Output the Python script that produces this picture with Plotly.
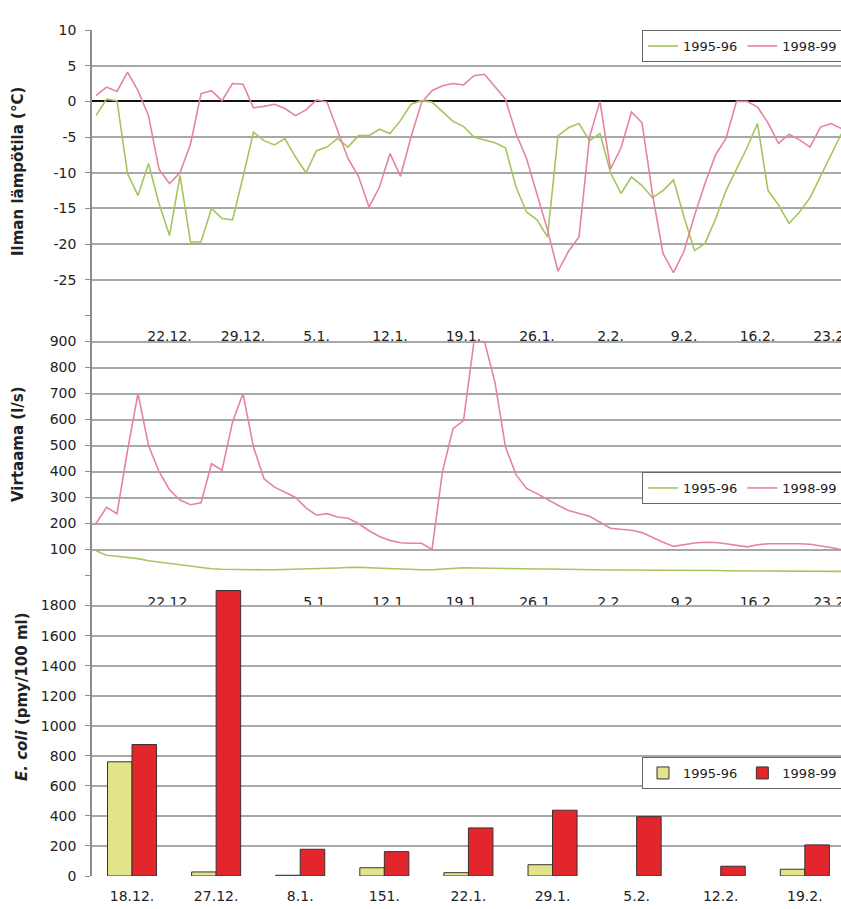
import pandas as pd
import plotly.graph_objects as go

# ---------------- data ----------------
start_date = "1998-12-15"
temp_9596 = [-2.0, 0.3, 0.1, -10.1, -13.2, -8.7, -14.3, -18.8, -10.4, -19.7,
             -19.7, -15.0, -16.4, -16.6, -10.6, -4.3, -5.5, -6.1, -5.2, -7.8,
             -10.0, -6.9, -6.4, -5.2, -6.4, -4.8, -4.8, -3.9, -4.5, -2.7,
             -0.4, 0.1, -0.1, -1.5, -2.8, -3.5, -5.0, -5.4, -5.8, -6.5,
             -12.0, -15.5, -16.6, -19.0, -4.8, -3.7, -3.1, -5.5, -4.5, -10.0,
             -12.9, -10.6, -11.8, -13.5, -12.5, -11.0, -16.2, -20.9, -19.9, -16.5,
             -12.5, -9.5, -6.5, -3.1, -12.5, -14.5, -17.1, -15.5, -13.5, -10.5,
             -7.5, -4.5]
temp_9899 = [0.8, 2.0, 1.4, 4.1, 1.5, -2.0, -9.5, -11.5, -10.0, -6.0,
             1.1, 1.5, 0.1, 2.5, 2.4, -0.9, -0.7, -0.4, -1.0, -2.0,
             -1.2, 0.2, -0.1, -4.2, -8.0, -10.5, -14.8, -12.0, -7.3, -10.5,
             -5.0, -0.2, 1.5, 2.2, 2.5, 2.3, 3.6, 3.8, 2.0, 0.3,
             -4.5, -8.0, -13.0, -18.0, -23.8, -21.0, -19.0, -5.0, 0.0, -9.5,
             -6.5, -1.5, -3.0, -13.0, -21.3, -24.0, -21.0, -16.0, -11.5, -7.5,
             -5.2, 0.0, 0.0, -0.8, -3.0, -5.9, -4.6, -5.4, -6.4, -3.6,
             -3.1, -3.8]
flow_9596 = [95, 78, 74, 70, 65, 57, 52, 46, 42, 37,
             31, 26, 24, 23, 22, 22, 22, 22, 23, 23,
             24, 26, 27, 29, 31, 32, 30, 28, 26, 25,
             23, 22, 22, 25, 28, 30, 29, 28, 27, 27,
             26, 26, 25, 25, 24, 24, 23, 22, 22, 21,
             21, 21, 20, 20, 20, 19, 19, 19, 19, 19,
             18, 18, 18, 18, 18, 18, 17, 17, 17, 17,
             17, 16]
flow_9899 = [200, 262, 238, 480, 700, 500, 400, 330, 290, 272,
             280, 430, 405, 590, 700, 494, 372, 340, 320, 300,
             260, 232, 238, 225, 220, 200, 172, 150, 135, 126,
             124, 124, 100, 400, 565, 596, 900, 900, 743, 494,
             388, 335, 315, 292, 270, 250, 240, 228, 205, 182,
             178, 174, 165, 145, 128, 112, 118, 125, 128, 127,
             122, 115, 110, 118, 122, 122, 123, 122, 120, 115,
             108, 99]

line_tick_dates = ["1998-12-22", "1998-12-29", "1999-01-05", "1999-01-12", "1999-01-19",
                   "1999-01-26", "1999-02-02", "1999-02-09", "1999-02-16", "1999-02-23"]
line_tick_labels = ["22.12.", "29.12.", "5.1.", "12.1.", "19.1.",
                    "26.1.", "2.2.", "9.2.", "16.2.", "23.2."]
flow_tick_dates = [d for d in line_tick_dates if d != "1998-12-29"]
flow_tick_labels = [l for l in line_tick_labels if l != "29.12."]

sample_dates = ["18.12.", "27.12.", "8.1.", "151.", "22.1.", "29.1.", "5.2.", "12.2.", "19.2."]
ecoli_9596 = [760, 27, 5, 55, 22, 75, None, None, 45]
ecoli_9899 = [875, 1900, 178, 162, 320, 438, 395, 65, 207]

temp_ticks = [10, 5, 0, -5, -10, -15, -20, -25, -30]
flow_ticks = [0, 100, 200, 300, 400, 500, 600, 700, 800, 900, 1000]
ecoli_ticks = [0, 200, 400, 600, 800, 1000, 1200, 1400, 1600, 1800, 2000]

series_names = ["1995-96", "1998-99"]

days = pd.date_range(start_date, periods=len(temp_9899)).strftime("%Y-%m-%d").tolist()

# ---------------- styling ----------------
W, H = 841, 909
L = 92
PINK = "#e5849c"
GREEN = "#a3c65e"
YELLOW = "#e2e48a"
RED = "#e3262b"
GRID = "#a8a8a8"
FONT = "DejaVu Sans, Liberation Sans, sans-serif"


def frac(py):
    return 1 - py / H


fig = go.Figure()

fig.add_trace(go.Scatter(x=days, y=temp_9596, name=series_names[0], mode="lines",
                         line=dict(color=GREEN, width=1.6), xaxis="x", yaxis="y",
                         legend="legend"))
fig.add_trace(go.Scatter(x=days, y=temp_9899, name=series_names[1], mode="lines",
                         line=dict(color=PINK, width=1.6), xaxis="x", yaxis="y",
                         legend="legend"))
fig.add_trace(go.Scatter(x=days, y=flow_9596, name=series_names[0], mode="lines",
                         line=dict(color=GREEN, width=1.6), xaxis="x2", yaxis="y2",
                         legend="legend2"))
fig.add_trace(go.Scatter(x=days, y=flow_9899, name=series_names[1], mode="lines",
                         line=dict(color=PINK, width=1.6), xaxis="x2", yaxis="y2",
                         legend="legend2"))
fig.add_trace(go.Bar(x=sample_dates, y=ecoli_9596, name=series_names[0],
                     marker=dict(color=YELLOW, line=dict(color="#3b3030", width=1)),
                     xaxis="x3", yaxis="y3", legend="legend3"))
fig.add_trace(go.Bar(x=sample_dates, y=ecoli_9899, name=series_names[1],
                     marker=dict(color=RED, line=dict(color="#3b3030", width=1)),
                     xaxis="x3", yaxis="y3", legend="legend3"))

tickfont = dict(family=FONT, size=14, color="#222")


def yax(**kw):
    base = dict(showgrid=True, gridcolor=GRID, gridwidth=2,
                showline=True, linecolor="#8c8c8c", linewidth=1.5,
                ticks="outside", ticklen=5, tickcolor="#8c8c8c", tickwidth=1,
                ticklabelstandoff=6,
                tickfont=tickfont, zeroline=False, fixedrange=True)
    base.update(kw)
    return base


def xax(**kw):
    base = dict(domain=[0, 1], showgrid=False, ticks="", tickfont=tickfont,
                zeroline=False, showline=False, fixedrange=True,
                ticklabeloverflow="allow")
    base.update(kw)
    return base


x_left = "1998-12-14 14:51"
x_right = "1999-02-23 22:51"

fig.update_layout(
    width=W, height=H,
    margin=dict(l=L, r=0, t=0, b=0, autoexpand=False),
    paper_bgcolor="white",
    plot_bgcolor="rgba(0,0,0,0)",
    font=dict(family=FONT, size=14, color="#222"),
    barmode="group", bargap=0.417, bargroupgap=0,
    xaxis=xax(type="date", range=[x_left, x_right], tickvals=line_tick_dates,
              ticktext=line_tick_labels, ticklabelstandoff=10, anchor="y"),
    yaxis=yax(domain=[frac(315.5), frac(30)], range=[-30, 10], tickvals=temp_ticks,
              ticktext=[str(v) if v != -30 else "" for v in temp_ticks], anchor="x",
              zeroline=True, zerolinecolor="#111", zerolinewidth=2),
    xaxis2=xax(type="date", range=[x_left, x_right], tickvals=flow_tick_dates,
               ticktext=flow_tick_labels, ticklabelstandoff=16, anchor="y2"),
    yaxis2=yax(domain=[frac(575.5), frac(315.5)], range=[0, 1000], tickvals=flow_ticks,
               ticktext=[str(v) if 0 < v < 1000 else "" for v in flow_ticks], anchor="x2"),
    xaxis3=xax(type="category", range=[-0.476, 8.43], ticklabelstandoff=10, anchor="y3"),
    yaxis3=yax(domain=[frac(876), frac(575.5)], range=[0, 2000], tickvals=ecoli_ticks,
               ticktext=[str(v) if v < 2000 else "" for v in ecoli_ticks], anchor="x3"),
)

legend_common = dict(orientation="h", xanchor="left", yanchor="top",
                     x=(642 - L) / (W - L), bgcolor="white",
                     bordercolor="#666", borderwidth=1,
                     font=dict(family=FONT, size=13, color="#222"),
                     itemwidth=30, traceorder="normal")
fig.update_layout(
    legend=dict(y=frac(30), **legend_common),
    legend2=dict(y=frac(472), **legend_common),
    legend3=dict(y=frac(757), **legend_common),
)

titles = [
    ("<b>Ilman lämpötila (°C)</b>", 18, 172),
    ("<b>Virtaama (l/s)</b>", 18, 444),
    ("<b><i>E. coli</i> (pmy/100 ml)</b>", 22, 697),
]
for text, px, py in titles:
    fig.add_annotation(text=text, xref="paper", yref="paper",
                       x=(px - L) / (W - L), y=frac(py), textangle=-90,
                       showarrow=False, xanchor="center", yanchor="middle",
                       font=dict(family=FONT, size=15, color="#222"))

# remove the default page margin so the figure sits at the window's top-left corner
fig.write_html("out.html", config={"displayModeBar": False},
               post_script="document.body.style.margin='0px';")
